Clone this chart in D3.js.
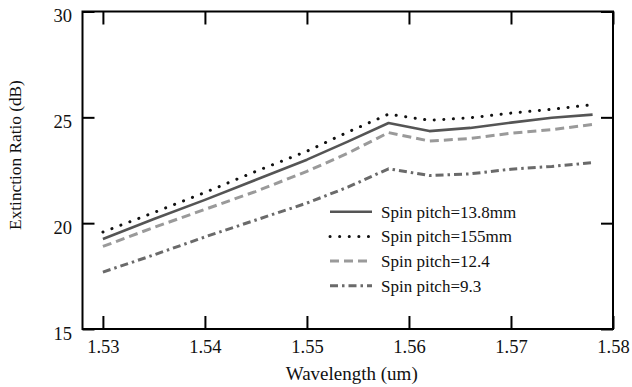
<!DOCTYPE html>
<html>
<head>
<meta charset="utf-8">
<script src="https://cdn.jsdelivr.net/npm/d3@7"></script>
<style>
  html, body { margin: 0; padding: 0; background: #fff; }
  svg { display: block; }
  svg text { font-family: "Liberation Serif", "Times New Roman", Times, "DejaVu Serif", serif !important; fill: #111; }
</style>
</head>
<body>
<svg id="chart" width="632" height="387"></svg>
<script>
// ---- data ----
const wavelengths = [1.530, 1.535, 1.540, 1.545, 1.550, 1.554, 1.558, 1.562, 1.566, 1.570, 1.574, 1.578];
const pitch138 = [19.25, 20.2, 21.1, 22.05, 23.0, 23.85, 24.73, 24.35, 24.5, 24.75, 24.98, 25.13];
const pitch155 = [19.58, 20.5, 21.45, 22.45, 23.4, 24.3, 25.15, 24.86, 24.98, 25.2, 25.38, 25.6];
const pitch124 = [18.9, 19.8, 20.65, 21.5, 22.45, 23.3, 24.28, 23.88, 24.0, 24.25, 24.42, 24.66];
const pitch93  = [17.69, 18.5, 19.35, 20.15, 20.95, 21.7, 22.57, 22.25, 22.33, 22.55, 22.68, 22.86];
const seriesNames = ["Spin pitch=13.8mm", "Spin pitch=155mm", "Spin pitch=12.4", "Spin pitch=9.3"];
const xTicks = [1.53, 1.54, 1.55, 1.56, 1.57, 1.58];
const yTicks = [15, 20, 25, 30];
const xTitle = "Wavelength (um)";
const yTitle = "Extinction Ratio (dB)";

const seriesValues = [pitch138, pitch155, pitch124, pitch93];
const styles = [
  { color: "#555555", width: 2.6, dash: null, cap: "butt" },
  { color: "#111111", width: 3, dash: "0.1,9.5", cap: "round" },
  { color: "#9a9a9a", width: 3, dash: "9,5", cap: "butt" },
  { color: "#6a6a6a", width: 3, dash: "8,4,2.5,4", cap: "butt" }
];

const svg = d3.select("#chart");
const L = 82.5, R = 613, T = 11.5, B = 329;
const x = d3.scaleLinear().domain([1.528, 1.58]).range([L, R]);
const y = d3.scaleLinear().domain([15, 30]).range([B, T]);

// lines
const line = d3.line().x(d => x(d[0])).y(d => y(d[1]));
seriesValues.forEach((vals, i) => {
  const pts = wavelengths.map((w, j) => [w, vals[j]]);
  const s = styles[i];
  svg.append("path")
    .attr("d", line(pts))
    .attr("fill", "none")
    .attr("stroke", s.color)
    .attr("stroke-width", s.width)
    .attr("stroke-linecap", s.cap)
    .attr("stroke-linejoin", "round")
    .attr("stroke-dasharray", s.dash);
});

// axes
const fontSize = "18.5px";
const gB = svg.append("g").attr("transform", `translate(0,${B})`)
  .call(d3.axisBottom(x).tickValues(xTicks).tickFormat(d3.format(".2f")).tickSizeInner(-13).tickSizeOuter(0).tickPadding(11));
const gT = svg.append("g").attr("transform", `translate(0,${T})`)
  .call(d3.axisTop(x).tickValues(xTicks).tickFormat("").tickSizeInner(-13).tickSizeOuter(0));
const gL = svg.append("g").attr("transform", `translate(${L},0)`)
  .call(d3.axisLeft(y).tickValues(yTicks).tickSizeInner(-12).tickSizeOuter(0).tickPadding(10.5));
const gR = svg.append("g").attr("transform", `translate(${R},0)`)
  .call(d3.axisRight(y).tickValues(yTicks).tickFormat("").tickSizeInner(-12).tickSizeOuter(0));

[gB, gT, gL, gR].forEach(g => {
  g.attr("font-family", null).attr("font-size", null);
  g.select(".domain").remove();
  g.selectAll(".tick line").attr("stroke", "#000").attr("stroke-width", 2);
  g.selectAll("text").style("font-size", fontSize).attr("fill", "#111");
});
gL.selectAll("text").attr("dy", "0.55em");

// frame
svg.append("rect").attr("x", L).attr("y", T).attr("width", R - L).attr("height", B - T)
  .attr("fill", "none").attr("stroke", "#000").attr("stroke-width", 2);

// titles
svg.append("text").attr("x", (L + R) / 2 + 4).attr("y", 380).attr("text-anchor", "middle")
  .style("font-size", "19px").text(xTitle);
svg.append("text").attr("transform", `translate(21,155) rotate(-90)`).attr("text-anchor", "middle")
  .style("font-size", "17.3px").text(yTitle);

// legend
const lg = svg.append("g");
seriesNames.forEach((name, i) => {
  const s = styles[i];
  const yy = 211.7 + i * 24.7;
  lg.append("line").attr("x1", 330).attr("x2", 372).attr("y1", yy).attr("y2", yy)
    .attr("stroke", s.color).attr("stroke-width", s.width)
    .attr("stroke-linecap", s.cap).attr("stroke-dasharray", s.dash);
  lg.append("text").attr("x", 381).attr("y", yy + 6)
    .style("font-size", "17px").text(name);
});
</script>
</body>
</html>
